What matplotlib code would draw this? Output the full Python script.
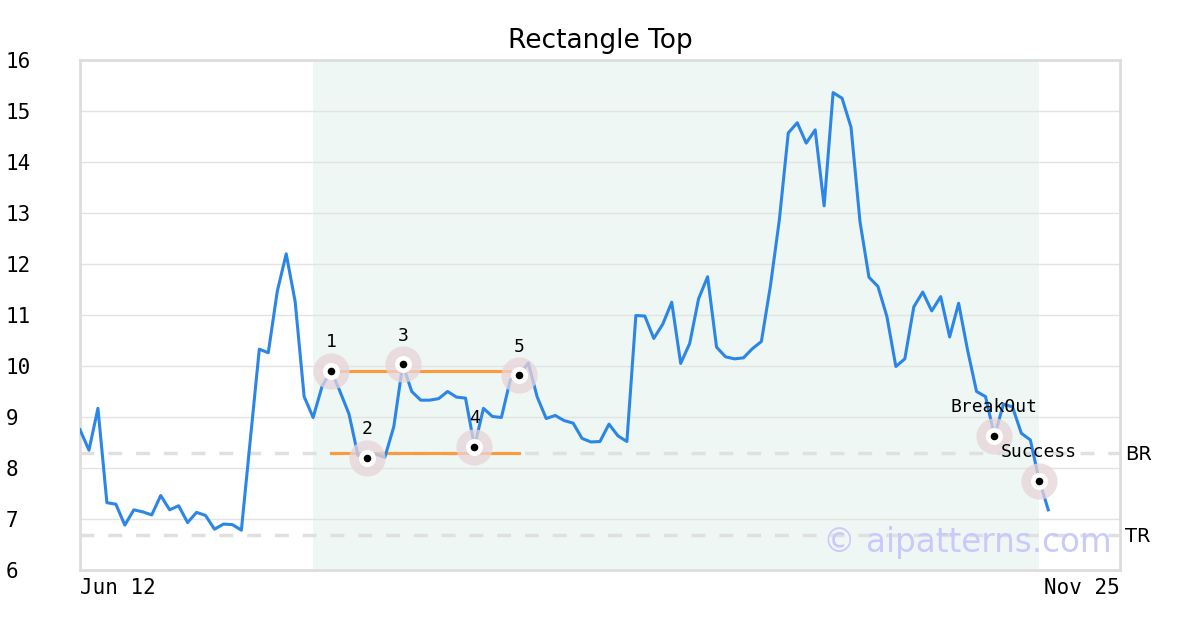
import matplotlib
matplotlib.use("Agg")
import matplotlib.pyplot as plt
from matplotlib.transforms import blended_transform_factory, ScaledTranslation

# ---- data ----
prices = [8.75, 8.35, 9.17, 7.32, 7.29, 6.88, 7.18, 7.14, 7.08, 7.46,
          7.18, 7.26, 6.93, 7.13, 7.07, 6.80, 6.90, 6.89, 6.78, 8.56,
          10.33, 10.26, 11.46, 12.20, 11.26, 9.40, 8.99, 9.60, 9.91, 9.50,
          9.06, 8.25, 8.20, 8.27, 8.21, 8.81, 10.03, 9.50, 9.33, 9.33,
          9.36, 9.50, 9.39, 9.37, 8.42, 9.17, 9.01, 8.99, 9.73, 9.82,
          10.06, 9.39, 8.97, 9.03, 8.93, 8.88, 8.58, 8.51, 8.52, 8.86,
          8.63, 8.52, 10.99, 10.98, 10.54, 10.82, 11.25, 10.05, 10.44, 11.32,
          11.75, 10.37, 10.18, 10.14, 10.16, 10.34, 10.48, 11.56, 12.86, 14.57,
          14.77, 14.37, 14.63, 13.14, 15.36, 15.25, 14.68, 12.83, 11.74, 11.56,
          10.97, 9.99, 10.14, 11.16, 11.45, 11.08, 11.36, 10.57, 11.23, 10.31,
          9.50, 9.40, 8.63, 9.25, 9.20, 8.68, 8.55, 7.75, 7.18]
x_labels = ["Jun 12", "Nov 25"]
title = "Rectangle Top"

pattern_idx = [28, 32, 36, 44, 49]
pattern_labels = ["1", "2", "3", "4", "5"]
top_level = 9.90
bottom_level = 8.30
line_start, line_end = 28, 49
shade_start, shade_end = 26, 107
br_level = 8.30
tr_level = 6.69
event_idx = [102, 107]
event_labels = ["BreakOut", "Success"]
y_ticks = list(range(6, 17))

# ---- figure ----
fig = plt.figure(figsize=(12, 6.3), dpi=100)
ax = fig.add_axes([80/1200, 60/630, 1040/1200, 510/630])
mono = "DejaVu Sans Mono"

x = list(range(len(prices)))
ax.set_xlim(0, 116)
ax.set_ylim(6, 16)

ax.axvspan(shade_start, shade_end, color="#eef7f3", zorder=0, lw=0)
ax.set_yticks(y_ticks)
ax.grid(axis="y", color="#e3e3e3", lw=1, zorder=1)
ax.grid(axis="x", visible=False)

# BR / TR dashed lines extending to the frame
trans = blended_transform_factory(ax.transAxes, ax.transData)
for lvl, lab in [(br_level, "BR"), (tr_level, "TR")]:
    ax.plot([0, 1.0], [lvl, lvl], transform=trans, ls=(0, (4, 4)), color="#e0e0e0",
            lw=2.5, clip_on=False, zorder=2)
    ax.text(1.005, lvl - 0.03, lab, transform=trans, fontsize=14, va="center", ha="left",
            color="black")

ax.plot(x, prices, color="#2b86e8", lw=2.2, zorder=4)

ax.plot([line_start, line_end], [top_level, top_level], color="#ff9a3c", lw=2.2, zorder=3)
ax.plot([line_start, line_end], [bottom_level, bottom_level], color="#ff9a3c", lw=2.2, zorder=3)

def marker(i, label, dy_pt, dx_pt=0):
    ax.scatter([i], [prices[i]], s=680, color="#e8d4d9", alpha=0.75, zorder=5, lw=0)
    ax.scatter([i], [prices[i]], s=150, color="white", zorder=6, lw=0)
    ax.scatter([i], [prices[i]], s=30, color="black", zorder=7, lw=0)
    ax.annotate(label, (i, prices[i]), xytext=(dx_pt, dy_pt), textcoords="offset points",
                ha="center", va="bottom", fontsize=13, family=mono, zorder=8)

for i, lab in zip(pattern_idx, pattern_labels):
    marker(i, lab, 14)
marker(event_idx[0], event_labels[0], 14)
marker(event_idx[1], event_labels[1], 14)

ax.text(0.853, 0.054, "© aipatterns.com", transform=ax.transAxes, fontsize=23.5,
        color="#c9c9fb", ha="center", va="center", zorder=9)

# ticks
ax.set_yticklabels([str(v) for v in y_ticks], family=mono, fontsize=15)
ax.tick_params(axis="y", length=0, pad=0)
for lab in ax.get_yticklabels():
    lab.set_horizontalalignment("left")
    lab.set_transform(lab.get_transform() + ScaledTranslation(-74/100, 0, fig.dpi_scale_trans))

ax.set_xticks([0, 116])
ax.set_xticklabels(x_labels, family=mono, fontsize=15)
ax.tick_params(axis="x", length=0, pad=6)
xl = ax.get_xticklabels()
xl[0].set_horizontalalignment("left")
xl[1].set_horizontalalignment("right")

for s in ax.spines.values():
    s.set_color("#dddddd")
    s.set_linewidth(2)

ax.set_title(title, fontsize=19, pad=9)

fig.savefig("out.png", dpi=100)
